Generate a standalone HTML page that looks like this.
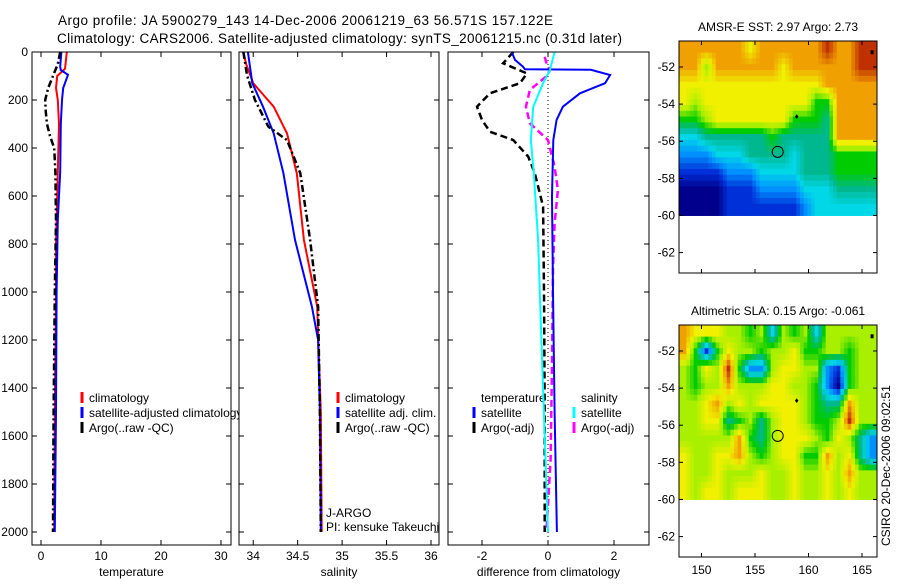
<!DOCTYPE html>
<html><head><meta charset="utf-8"><style>
html,body{margin:0;padding:0;background:#fff;}
svg text{font-family:"Liberation Sans",Arial,sans-serif;fill:#000;}
</style></head><body>
<svg id="fig" width="900" height="580" viewBox="0 0 900 580" xmlns="http://www.w3.org/2000/svg">
<text x="58" y="25" font-size="13.5" textLength="495">Argo profile: JA 5900279_143 14-Dec-2006 20061219_63 56.571S 157.122E</text>
<text x="57" y="43" font-size="13.5" textLength="565">Climatology: CARS2006. Satellite-adjusted climatology: synTS_20061215.nc (0.31d later)</text>
<g id="plots"></g>
</svg>
<script>
// ---------- DATA ----------
const depthTicks = [0,200,400,600,800,1000,1200,1400,1600,1800,2000];
// Temperature panel
const tClimDepth = [0,70,100,150,200,300,500,800,1000,1500,2000];
const tClimVal   = [4.3,4.0,2.7,2.5,2.8,3.0,2.8,2.5,2.5,2.3,2.2];
const tSatDepth  = [0,60,75,95,150,200,300,500,700,1000,1500,2000];
const tSatVal    = [3.4,3.2,3.3,4.5,3.7,3.5,3.3,3.2,2.8,2.6,2.5,2.3];
const tArgoDepth = [0,50,100,150,200,250,300,350,400,500,700,1000,1500,2000];
const tArgoVal   = [3.2,2.8,2.0,1.2,0.7,0.8,1.0,1.5,2.2,2.4,2.5,2.3,2.1,2.0];
const tTicks = [0,10,20,30];
// Salinity panel
const sClimDepth = [0,50,100,130,228,339,505,783,1061,1500,2000];
const sClimVal   = [33.89,33.92,33.97,34.0,34.23,34.38,34.49,34.57,34.72,34.76,34.77];
const sSatDepth  = [0,130,228,339,505,783,1061,1200,1500,2000];
const sSatVal    = [33.94,33.99,34.11,34.23,34.34,34.47,34.66,34.73,34.75,34.76];
const sArgoDepth = [0,97,200,311,367,505,783,1061,1500,2000];
const sArgoVal   = [33.89,33.93,34.02,34.17,34.38,34.53,34.64,34.73,34.75,34.76];
const sTicks = [34,34.5,35,35.5,36];
// Difference panel
const dTSatDepth = [0,33,61,72,74,96,130,172,228,283,367,600,1000,1500,2000];
const dTSatVal   = [-1.1,-1.0,-0.76,-0.7,1.3,1.88,1.73,0.97,0.45,0.26,0.16,0.12,0.15,0.2,0.27];
const dTArgoDepth= [0,47,89,130,172,228,283,332,367,436,505,644,1000,1500,2000];
const dTArgoVal  = [-1.05,-1.36,-0.64,-0.85,-1.76,-2.15,-2.0,-1.76,-1.05,-0.6,-0.4,-0.15,-0.12,-0.1,-0.1];
const dSSatDepth = [0,75,130,228,367,505,783,1200,1600,2000];
const dSSatVal   = [0.2,0.06,-0.15,-0.45,-0.52,-0.43,-0.3,-0.2,-0.1,0.0];
const dSArgoDepth= [20,50,75,100,158,228,297,367,478,575,714,900,1300,1700,2000];
const dSArgoVal  = [-0.1,-0.04,0.06,-0.04,-0.55,-0.67,-0.55,0.0,0.2,0.3,0.2,0.15,0.12,0.08,-0.05];
const dTicks = [-2,0,2];
// Maps (digits = colour class 0..9 per cell, rows lat 50.6->60, cols lon 147.9->166.4)
const sstGrid = [
"888888788888898899","886888888788888899","777777777777788888","767777777777558888",
"556777777755548888","334444445444448888","222333444434445555","111122233334445555",
"000011122223334444","000011111112333333"];
const slaGrid = [
"877766563656366666","851576656675566566","657695226776621566","656686667766520566",
"667867677776544866","667745646776556966","666668546777657642","766778656775586742",
"766766676676676866","767767776676676766"];
const palette = ["#00008c","#0030d8","#0090ff","#00d8e8","#00b890","#00cc00","#a8f000","#f0f000","#f0a000","#c03000"];
const lonTicks = [150,155,160,165];
const latTicks = [52,54,56,58,60,62];
const argoLon = 157.122, argoLat = 56.571;

// ---------- DRAW ----------
const NS="http://www.w3.org/2000/svg";
const root=document.getElementById('plots');
function mk(tag,attrs,parent){const e=document.createElementNS(NS,tag);for(const k in attrs)e.setAttribute(k,attrs[k]);(parent||root).appendChild(e);return e;}
const yTop=52, yBot=545;
const yD=d=>yTop+d*0.24;

function panel(name,x0,x1,vmin,vmax,ticks,labels,xlabel,showY){
  const g=mk('g',{});
  
  
  mk('rect',{x:x0,y:yTop,width:x1-x0,height:yBot-yTop,fill:'#fff',stroke:'none'},g);
  const sx=v=>x0+(v-vmin)/(vmax-vmin)*(x1-x0);
  ticks.forEach((t,i)=>{const x=sx(t);
    mk('line',{x1:x,x2:x,y1:yBot,y2:yBot-5,stroke:'#000'},g);
    mk('line',{x1:x,x2:x,y1:yTop,y2:yTop+5,stroke:'#000'},g);
    const tx=mk('text',{x:x,y:yBot+15,'font-size':12,'text-anchor':'middle'},g);tx.textContent=labels[i];
    
    
  });
  depthTicks.forEach(d=>{const y=yD(d);
    mk('line',{x1:x0,x2:x0+5,y1:y,y2:y,stroke:'#000'},g);
    mk('line',{x1:x1,x2:x1-5,y1:y,y2:y,stroke:'#000'},g);
    if(showY){const t=mk('text',{x:x0-4,y:y+4,'font-size':12,'text-anchor':'end'},g);t.textContent=d;
      
      }
  });
  const xl=mk('text',{x:(x0+x1)/2,y:576,'font-size':12,'text-anchor':'middle'},g);xl.textContent=xlabel;
  
  
  return {g,sx};
}
function series(p,depths,vals,color,dash,name,w){
  const pts=depths.map((d,i)=>p.sx(vals[i]).toFixed(1)+','+yD(d).toFixed(1)).join(' ');
  const l=mk('polyline',{points:pts,fill:'none',stroke:color,'stroke-width':w||2,'stroke-dasharray':dash||'none'},p.g);
  
  
}
function box(p,x0,x1){mk('rect',{x:x0,y:yTop,width:x1-x0,height:yBot-yTop,fill:'none',stroke:'#000'},p.g);}
function legend(g,x,y,items){
  items.forEach((it,i)=>{const yy=y+i*15;
    if(it[0]) mk('line',{x1:x,x2:x,y1:yy-10,y2:yy+1,stroke:it[0],'stroke-width':3},g);
    const t=mk('text',{x:x+7,y:yy,'font-size':12},g);t.textContent=it[1];
    
    
  });
}

const p1=panel('temperature-panel',32,231,-1.5,31.67,tTicks,['0','10','20','30'],'temperature',true);
series(p1,tClimDepth,tClimVal,'#f00',null,'temp-climatology-line');
series(p1,tSatDepth,tSatVal,'#00f',null,'temp-satellite-line');
series(p1,tArgoDepth,tArgoVal,'#000','7,3,2,3','temp-argo-line',2.5);
legend(p1.g,82,402,[['#f00','climatology'],['#00f','satellite-adjusted climatology'],['#000','Argo(..raw -QC)']]);
box(p1,32,231);
const p2=panel('salinity-panel',239,439,33.84,36.09,sTicks,['34','34.5','35','35.5','36'],'salinity',false);
series(p2,sClimDepth,sClimVal,'#f00',null,'sal-climatology-line');
series(p2,sSatDepth,sSatVal,'#00f',null,'sal-satellite-line');
series(p2,sArgoDepth,sArgoVal,'#000','7,3,2,3','sal-argo-line',2.5);
legend(p2.g,338,402,[['#f00','climatology'],['#00f','satellite adj. clim.'],['#000','Argo(..raw -QC)']]);
const t1=mk('text',{x:326,y:517,'font-size':12},p2.g);t1.textContent='J-ARGO';


const t2=mk('text',{x:326,y:531,'font-size':12},p2.g);t2.textContent='PI: kensuke Takeuchi';


box(p2,239,439);
const p3=panel('difference-panel',448,649,-3.03,3.06,dTicks,['-2','0','2'],'difference from climatology',false);
mk('line',{x1:p3.sx(0),x2:p3.sx(0),y1:yTop,y2:yBot,stroke:'#000','stroke-dasharray':'1,3'},p3.g);
legend(p3.g,474,402,[[null,'temperature'],['#00f','satellite'],['#000','Argo(-adj)']]);
legend(p3.g,574,402,[[null,'salinity'],['#0ff','satellite'],['#f0f','Argo(-adj)']]);
series(p3,dTArgoDepth,dTArgoVal,'#000','7,4','diff-temp-argo-line',2.5);
series(p3,dSArgoDepth,dSArgoVal,'#f0f','7,4','diff-sal-argo-line',2.5);
series(p3,dTSatDepth,dTSatVal,'#00f',null,'diff-temp-satellite-line');
series(p3,dSSatDepth,dSSatVal,'#0ff',null,'diff-sal-satellite-line');
box(p3,448,649);

function hex2rgb(h){return [parseInt(h.substr(1,2),16),parseInt(h.substr(3,2),16),parseInt(h.substr(5,2),16)];}
const palRGB=palette.map(hex2rgb);
function colorAt(v){v=Math.max(0,Math.min(9,v));const i=Math.min(8,Math.floor(v)),f=v-i;
  const a=palRGB[i],b=palRGB[i+1];return 'rgb('+a.map((c,k)=>Math.round(c+(b[k]-c)*f)).join(',')+')';}

function map(name,title,grid,y0,showLon){
  const x0=679,x1=877,y1=y0+232, lonMin=147.9,lonMax=166.4, latMin=50.6, latMax=63.1;
  const g=mk('g',{});
  
  
  const sx=v=>x0+(v-lonMin)/(lonMax-lonMin)*(x1-x0);
  const sy=v=>y0+(v-latMin)/(latMax-latMin)*(y1-y0);
  const nr=grid.length, nc=grid[0].length, S=3;
  const val=(r,c)=>+grid[Math.max(0,Math.min(nr-1,r))][Math.max(0,Math.min(nc-1,c))];
  for(let r=0;r<nr*S;r++)for(let c=0;c<nc*S;c++){
    const fr=(r+0.5)/S-0.5, fc=(c+0.5)/S-0.5;
    const r0=Math.floor(fr), c0=Math.floor(fc), ar=fr-r0, ac=fc-c0;
    const v=val(r0,c0)*(1-ar)*(1-ac)+val(r0,c0+1)*(1-ar)*ac+val(r0+1,c0)*ar*(1-ac)+val(r0+1,c0+1)*ar*ac;
    const la0=latMin+(60-latMin)*r/(nr*S), la1=latMin+(60-latMin)*(r+1)/(nr*S);
    const lo0=lonMin+(lonMax-lonMin)*c/(nc*S), lo1=lonMin+(lonMax-lonMin)*(c+1)/(nc*S);
    const cell=mk('rect',{x:sx(lo0).toFixed(2),y:sy(la0).toFixed(2),width:(sx(lo1)-sx(lo0)+0.5).toFixed(2),height:(sy(la1)-sy(la0)+0.5).toFixed(2),fill:colorAt(v)},g);
    
    
  }
  mk('rect',{x:x0,y:y0,width:x1-x0,height:y1-y0,fill:'none',stroke:'#000'},g);
  lonTicks.forEach(v=>{const x=sx(v);
    mk('line',{x1:x,x2:x,y1:y1,y2:y1-4,stroke:'#000'},g);mk('line',{x1:x,x2:x,y1:y0,y2:y0+4,stroke:'#000'},g);
    if(showLon){const t=mk('text',{x:x,y:y1+17,'font-size':12,'text-anchor':'middle'},g);t.textContent=v;
      
      }
  });
  latTicks.forEach(v=>{const y=sy(v);
    mk('line',{x1:x0,x2:x0+4,y1:y,y2:y,stroke:'#000'},g);mk('line',{x1:x1,x2:x1-4,y1:y,y2:y,stroke:'#000'},g);
    const t=mk('text',{x:x0-4,y:y+4,'font-size':12,'text-anchor':'end'},g);t.textContent='-'+v;
    
    
  });
  const tt=mk('text',{x:(x0+x1)/2,y:y0-10,'font-size':12,'text-anchor':'middle'},g);tt.textContent=title;
  
  
  const m=mk('circle',{cx:sx(argoLon),cy:sy(argoLat),r:5.5,fill:'none',stroke:'#000'},g);
  
  
  mk('text',{x:sx(158.7),y:sy(54.8),'font-size':8},g).textContent='♦';
  mk('rect',{x:sx(165.8),y:sy(51.1),width:3,height:4,fill:'#000'},g);
}
map('sst-map','AMSR-E SST: 2.97 Argo: 2.73',sstGrid,41,false);
map('sla-map','Altimetric SLA: 0.15 Argo: -0.061',slaGrid,325,true);
const cs=mk('text',{x:0,y:0,'font-size':12,transform:'translate(890,546) rotate(-90)'});
cs.textContent='CSIRO 20-Dec-2006 09:02:51';


</script>
</body></html>
